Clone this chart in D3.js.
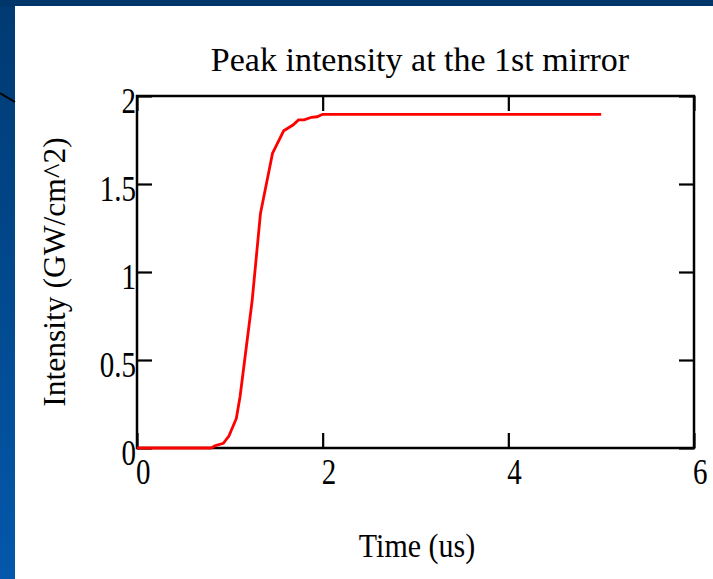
<!DOCTYPE html>
<html>
<head>
<meta charset="utf-8">
<script src="https://cdn.jsdelivr.net/npm/d3@7"></script>
<style>
  body { margin: 0; background: #ffffff; }
  svg { display: block; }
</style>
</head>
<body>
<div id="intensity_plot"></div>
<script>
// values
var timeUs = [0, 0.8, 0.84, 0.93, 0.99, 1.07, 1.11, 1.16, 1.24, 1.33, 1.46, 1.58, 1.68, 1.74, 1.80, 1.88, 1.94, 2.0, 5.0];
var intensity = [0, 0, 0.013, 0.027, 0.068, 0.168, 0.291, 0.5, 0.835, 1.333, 1.675, 1.802, 1.835, 1.864, 1.864, 1.879, 1.882, 1.896, 1.896];
var xTicks = [0, 2, 4, 6];
var yTicks = [0, 0.5, 1, 1.5, 2];
var xTickLabels = ["0", "2", "4", "6"];
var yTickLabels = ["0", "0.5", "1", "1.5", "2"];

var W = 713, H = 579;
var box = {left: 137, right: 694, top: 96, bottom: 448};
var serif = "'Liberation Serif', 'Times New Roman', serif";

var svg = d3.select("#intensity_plot")
  .append("svg")
    .attr("width", W)
    .attr("height", H);

// slide background
var grad = svg.append("defs").append("linearGradient")
    .attr("id", "sideGrad")
    .attr("x1", 0).attr("y1", 0).attr("x2", 0).attr("y2", 1);
grad.append("stop").attr("offset", "0%").attr("stop-color", "#003a72");
grad.append("stop").attr("offset", "100%").attr("stop-color", "#0358ab");

svg.append("rect").attr("width", W).attr("height", H).attr("fill", "url(#sideGrad)");
svg.append("rect").attr("width", W).attr("height", 7).attr("fill", "#00376b");
svg.append("rect").attr("x", 15).attr("y", 6).attr("width", W - 15).attr("height", H - 6).attr("fill", "#ffffff");
svg.append("line")
    .attr("x1", 0).attr("y1", 93).attr("x2", 15).attr("y2", 102)
    .attr("stroke", "#000").attr("stroke-width", 2);

var x = d3.scaleLinear().domain([0, 6]).range([box.left, box.right]);
var y = d3.scaleLinear().domain([0, 2]).range([box.bottom, box.top]);

// inward ticks on all four sides
function tickStyle(g) {
  g.select(".domain").remove();
  g.selectAll(".tick line").attr("stroke", "#000").attr("stroke-width", 2.2);
  g.selectAll(".tick text").remove();
}
svg.append("g").attr("transform", "translate(0," + box.bottom + ")")
  .call(d3.axisTop(x).tickValues(xTicks).tickSize(15).tickSizeOuter(0)).call(tickStyle);
svg.append("g").attr("transform", "translate(0," + box.top + ")")
  .call(d3.axisBottom(x).tickValues(xTicks).tickSize(15).tickSizeOuter(0)).call(tickStyle);
svg.append("g").attr("transform", "translate(" + box.left + ",0)")
  .call(d3.axisRight(y).tickValues(yTicks).tickSize(15).tickSizeOuter(0)).call(tickStyle);
svg.append("g").attr("transform", "translate(" + box.right + ",0)")
  .call(d3.axisLeft(y).tickValues(yTicks).tickSize(15).tickSizeOuter(0)).call(tickStyle);

// frame
svg.append("rect")
    .attr("x", box.left).attr("y", box.top)
    .attr("width", box.right - box.left).attr("height", box.bottom - box.top)
    .attr("fill", "none").attr("stroke", "#000").attr("stroke-width", 2.5);

// the curve
var pts = timeUs.map(function(t, i) { return {t: t, v: intensity[i]}; });
svg.append("path")
    .datum(pts)
    .attr("fill", "none")
    .attr("stroke", "#ff0000")
    .attr("stroke-width", 2.8)
    .attr("d", d3.line()
      .x(function(d) { return x(d.t); })
      .y(function(d) { return y(d.v); })
    );

// tick labels (the pasted plot is stretched vertically)
svg.append("g").selectAll("text")
  .data(xTicks)
  .enter().append("text")
    .attr("transform", function(d) { return "translate(" + (x(d) - 1) + "," + 484 + ") scale(1,1.25)"; })
    .style("font-family", serif)
    .style("font-size", "29px")
    .style("fill", "#000")
    .text(function(d, i) { return xTickLabels[i]; });

svg.append("g").selectAll("text")
  .data(yTicks)
  .enter().append("text")
    .attr("transform", function(d) { return "translate(" + 136 + "," + (y(d) + 17) + ") scale(1,1.25)"; })
    .style("font-family", serif)
    .style("font-size", "29px")
    .style("text-anchor", "end")
    .style("fill", "#000")
    .text(function(d, i) { return yTickLabels[i]; });

// title and axis titles
svg.append("text")
    .attr("x", 420).attr("y", 71)
    .style("font-family", serif)
    .style("font-size", "34px")
    .style("text-anchor", "middle")
    .text("Peak intensity at the 1st mirror");

svg.append("text")
    .attr("transform", "translate(417,557) scale(1,1.15)")
    .style("font-family", serif)
    .style("font-size", "30px")
    .style("text-anchor", "middle")
    .text("Time (us)");

svg.append("text")
    .attr("transform", "translate(65,272) rotate(-90)")
    .style("font-family", serif)
    .style("font-size", "31.5px")
    .style("text-anchor", "middle")
    .text("Intensity (GW/cm^2)");
</script>
</body>
</html>
